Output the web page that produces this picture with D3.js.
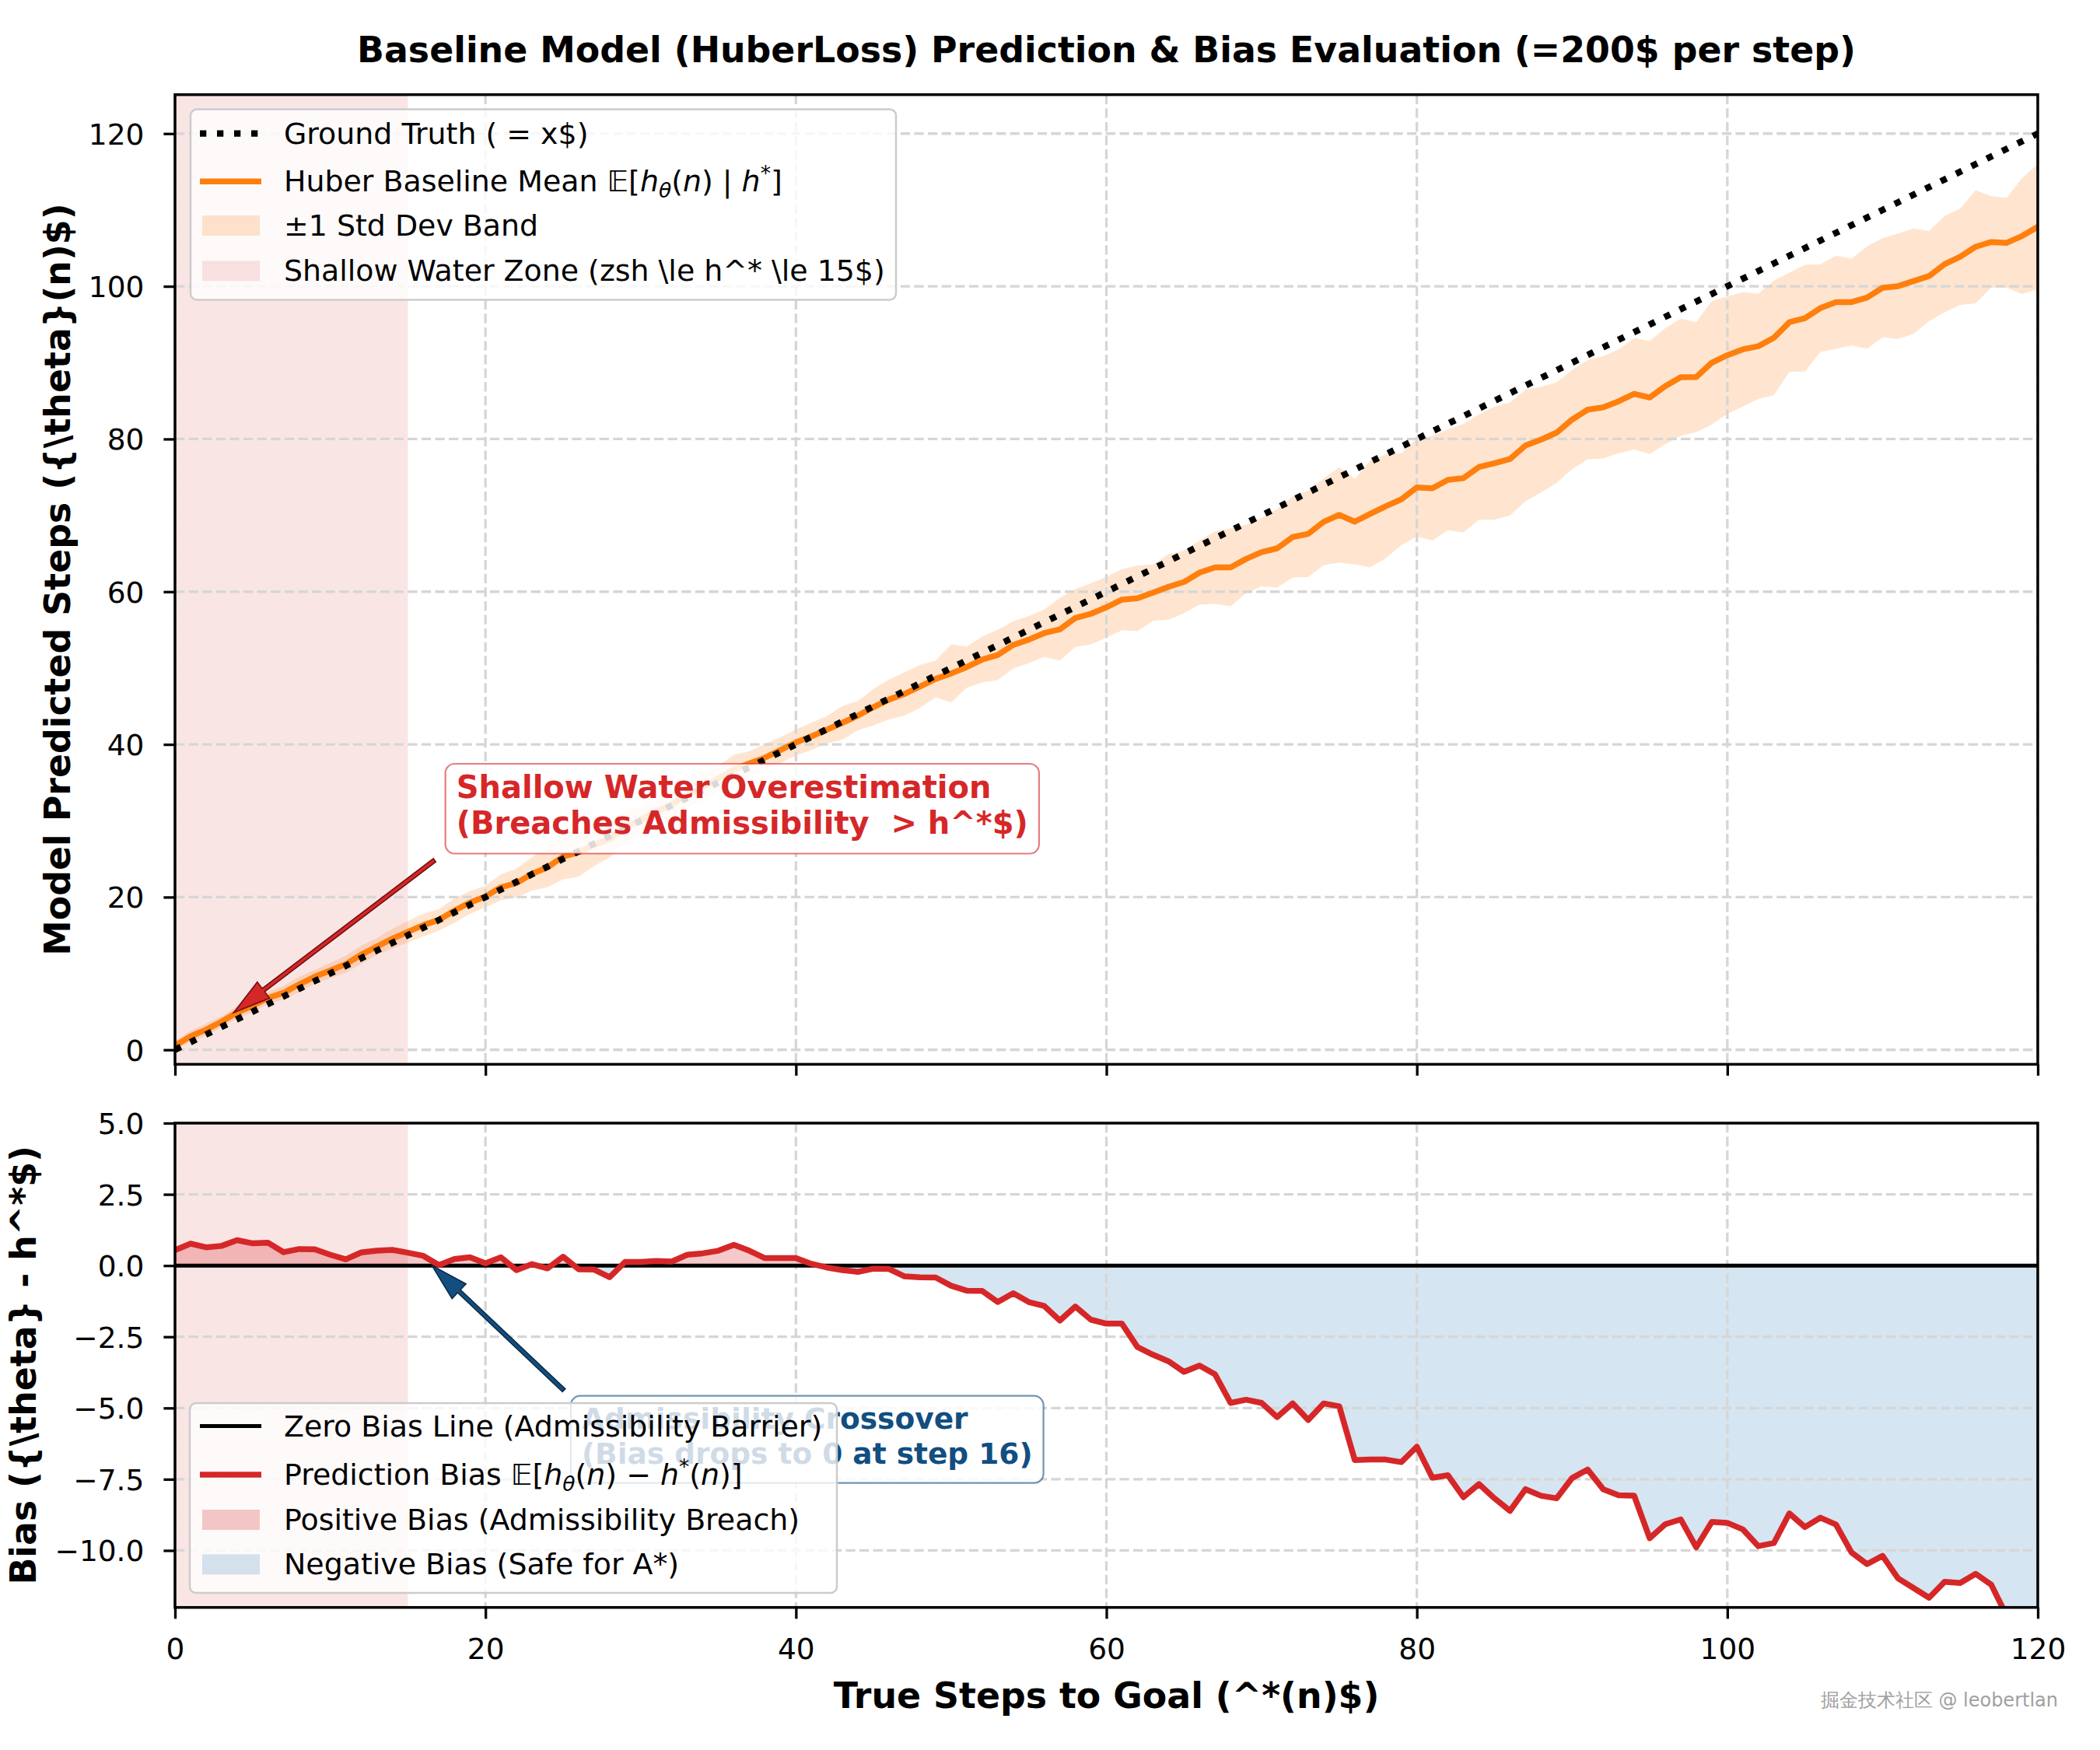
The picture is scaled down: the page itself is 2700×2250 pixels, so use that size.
<!DOCTYPE html>
<html>
<head>
<meta charset="utf-8">
<title>Baseline Model (HuberLoss) Prediction & Bias Evaluation</title>
<script src="https://cdn.jsdelivr.net/npm/d3@7"></script>
<style>
  body { margin: 0; background: #ffffff; }
  text { font-family: "DejaVu Sans", sans-serif; white-space: pre; }
</style>
</head>
<body>
<script>
// ---- data (x = true steps to goal 0..120) ----
var steps = d3.range(0, 121);

// prediction bias E[h_theta(n) - h*(n)] per step
var bias = [
  0.54, 0.77, 0.64, 0.69, 0.89, 0.78, 0.80, 0.47, 0.58, 0.57,
  0.38, 0.22, 0.46, 0.52, 0.55, 0.45, 0.34, 0.02, 0.23, 0.29,
  0.08, 0.29, -0.16, 0.05, -0.10, 0.31, -0.13, -0.14, -0.41, 0.13,
  0.13, 0.16, 0.14, 0.38, 0.43, 0.52, 0.73, 0.52, 0.26, 0.26,
  0.26, 0.06, -0.07, -0.16, -0.22, -0.11, -0.12, -0.38, -0.41, -0.42,
  -0.71, -0.88, -0.89, -1.28, -0.97, -1.28, -1.42, -1.93, -1.44, -1.90,
  -2.04, -2.04, -2.86, -3.13, -3.36, -3.73, -3.51, -3.82, -4.82, -4.71,
  -4.82, -5.32, -4.84, -5.42, -4.84, -4.94, -6.83, -6.81, -6.81, -6.90,
  -6.36, -7.45, -7.36, -8.13, -7.67, -8.17, -8.61, -7.85, -8.08, -8.17,
  -7.46, -7.16, -7.85, -8.06, -8.08, -9.57, -9.08, -8.91, -9.89, -9.00,
  -9.03, -9.26, -9.85, -9.74, -8.70, -9.18, -8.85, -9.09, -10.07, -10.48,
  -10.19, -10.98, -11.32, -11.66, -11.10, -11.14, -10.82, -11.20, -12.30, -12.40,
  -12.20
];

// +-1 std dev of the prediction per step
var stdDev = [
  0.6, 0.7, 0.8, 0.7, 0.8, 0.9, 0.8, 0.9, 1.0, 0.9,
  1.0, 1.1, 1.2, 1.1, 1.3, 1.4, 1.5, 1.4, 1.6, 1.5,
  1.4, 1.7, 1.9, 2.2, 2.6, 3.0, 3.2, 2.8, 2.4, 2.0,
  1.8, 1.7, 1.9, 1.6, 1.8, 1.7, 1.9, 1.6, 1.8, 1.7,
  1.7, 1.8, 1.8, 2.2, 1.9, 2.4, 2.6, 2.85, 2.8, 2.4,
  3.8, 2.7, 3.0, 3.3, 3.1, 3.1, 3.1, 4.1, 3.8, 4.0,
  4.0, 4.0, 4.3, 3.7, 4.3, 4.1, 4.2, 4.75, 5.1, 4.5,
  4.5, 5.15, 5.3, 5.66, 5.66, 6.25, 5.6, 7.0, 6.8, 6.0,
  6.37, 6.84, 6.6, 7.1, 6.9, 7.4, 7.4, 7.3, 6.9, 6.6,
  6.5, 6.5, 6.7, 6.8, 7.3, 7.4, 7.6, 7.7, 7.2, 8.1,
  7.7, 7.5, 6.9, 7.5, 6.5, 7.0, 5.75, 6.1, 5.7, 6.7,
  6.5, 6.9, 6.9, 5.9, 6.3, 6.3, 7.4, 6.0, 5.9, 7.6,
  8.2
];

// mean prediction = true steps + bias
var meanPred = steps.map(function(s, i) { return s + bias[i]; });

var xTicks = [0, 20, 40, 60, 80, 100, 120];
var yTopTicks = [0, 20, 40, 60, 80, 100, 120];
var yBotTicks = [-10, -7.5, -5, -2.5, 0, 2.5, 5];
var shallowZone = [0, 15];

var titleText = "Baseline Model (HuberLoss) Prediction & Bias Evaluation (=200$ per step)";
var yTopLabel = "Model Predicted Steps ({\\theta}(n)$)";
var yBotLabel = "Bias ({\\theta} - h^*$)";
var xLabel = "True Steps to Goal (^*(n)$)";

// legend labels: [text, style]  n = normal, i = italic, sub, sup
var topLegendLabels = [
  [["Ground Truth ( = x$)", "n"]],
  [["Huber Baseline Mean ", "n"], ["\uD835\uDD3C[", "n"], ["h", "i"], ["\u03B8", "sub"], ["(", "n"], ["n", "i"], [") | ", "n"], ["h", "i"], ["*", "sup"], ["]", "n"]],
  [["\u00B11 Std Dev Band", "n"]],
  [["Shallow Water Zone (zsh \\le h^* \\le 15$)", "n"]]
];
var botLegendLabels = [
  [["Zero Bias Line (Admissibility Barrier)", "n"]],
  [["Prediction Bias ", "n"], ["\uD835\uDD3C[", "n"], ["h", "i"], ["\u03B8", "sub"], ["(", "n"], ["n", "i"], [") \u2212 ", "n"], ["h", "i"], ["*", "sup"], ["(", "n"], ["n", "i"], [")]", "n"]],
  [["Positive Bias (Admissibility Breach)", "n"]],
  [["Negative Bias (Safe for A*)", "n"]]
];

var ann1Lines = ["Shallow Water Overestimation", "(Breaches Admissibility  > h^*$)"];
var ann2Lines = ["Admissibility Crossover", "(Bias drops to 0 at step 16)"];

// ---- colours ----
var ORANGE = "#ff7f0e", RED = "#d62728", NAVY = "#124e80";
var shallowFill = "rgba(214,39,40,0.12)";
var bandFill = "rgba(255,127,14,0.2)";
var posFill = "rgba(214,39,40,0.25)";
var negFill = "rgba(31,119,180,0.19)";
var gridColor = "#d6d6d6";

var W = 2700, H = 2250;
var TICK_FS = 37.5, LEG_FS = 37.9, LABEL_FS = 45.8;

var svg = d3.select("body").append("svg")
  .attr("width", W).attr("height", H)
  .attr("viewBox", "0 0 " + W + " " + H);

svg.append("rect").attr("width", W).attr("height", H).attr("fill", "#ffffff");

var x = d3.scaleLinear().domain([0, 120]).range([225, 2620]);
var yTop = d3.scaleLinear().domain([-1.9, 125.1]).range([1368.4, 121.7]);
var yBot = d3.scaleLinear().domain([-12, 5]).range([2066.7, 1444]);

var defs = svg.append("defs");
function clip(id, ys) {
  defs.append("clipPath").attr("id", id).append("rect")
    .attr("x", x.range()[0]).attr("y", ys.range()[1])
    .attr("width", x.range()[1] - x.range()[0])
    .attr("height", ys.range()[0] - ys.range()[1]);
}
clip("clipTop", yTop);
clip("clipBot", yBot);

// fill helper: inserts zero crossings so the area follows the line exactly
function signedArea(xs, ys, sign) {
  var pts = [];
  for (var i = 0; i < xs.length; i++) {
    if (i > 0 && (ys[i - 1] * ys[i] < 0)) {
      var t = ys[i - 1] / (ys[i - 1] - ys[i]);
      pts.push([xs[i - 1] + t * (xs[i] - xs[i - 1]), 0]);
    }
    pts.push([xs[i], ys[i]]);
  }
  return pts.map(function(p) {
    return [p[0], sign > 0 ? Math.max(p[1], 0) : Math.min(p[1], 0)];
  });
}

function grid(g, ys, yTicks) {
  g.selectAll(".vg").data(xTicks).enter().append("line")
    .attr("x1", function(d) { return x(d); }).attr("x2", function(d) { return x(d); })
    .attr("y1", ys.range()[1]).attr("y2", ys.range()[0])
    .attr("stroke", gridColor).attr("stroke-width", 3.3).attr("stroke-dasharray", "12.3 5.3");
  g.selectAll(".hg").data(yTicks).enter().append("line")
    .attr("x1", x.range()[0]).attr("x2", x.range()[1])
    .attr("y1", function(d) { return ys(d); }).attr("y2", function(d) { return ys(d); })
    .attr("stroke", gridColor).attr("stroke-width", 3.3).attr("stroke-dasharray", "12.3 5.3");
}

function styleAxis(g) {
  g.select(".domain").remove();
  g.selectAll(".tick line").attr("stroke", "#000").attr("stroke-width", 3.3);
  g.selectAll(".tick text").attr("font-family", "DejaVu Sans").attr("font-size", TICK_FS).attr("fill", "#000");
}

function spines(ys) {
  svg.append("rect")
    .attr("x", x.range()[0]).attr("y", ys.range()[1])
    .attr("width", x.range()[1] - x.range()[0])
    .attr("height", ys.range()[0] - ys.range()[1])
    .attr("fill", "none").attr("stroke", "#000").attr("stroke-width", 3.5);
}

// ================= TOP PANEL =================
var topG = svg.append("g").attr("clip-path", "url(#clipTop)");

topG.append("rect")
  .attr("x", x(shallowZone[0])).attr("y", yTop.range()[1])
  .attr("width", x(shallowZone[1]) - x(shallowZone[0]))
  .attr("height", yTop.range()[0] - yTop.range()[1])
  .attr("fill", shallowFill);

topG.append("path")
  .datum(steps)
  .attr("d", d3.area()
    .x(function(d) { return x(d); })
    .y0(function(d, i) { return yTop(meanPred[i] - stdDev[i]); })
    .y1(function(d, i) { return yTop(meanPred[i] + stdDev[i]); }))
  .attr("fill", bandFill);

grid(topG, yTop, yTopTicks);

topG.append("path")
  .datum(steps)
  .attr("d", d3.line().x(function(d) { return x(d); }).y(function(d, i) { return yTop(meanPred[i]); }))
  .attr("fill", "none").attr("stroke", ORANGE).attr("stroke-width", 7.5)
  .attr("stroke-linejoin", "round");

topG.append("path")
  .datum(steps)
  .attr("d", d3.line().x(function(d) { return x(d); }).y(function(d) { return yTop(d); }))
  .attr("fill", "none").attr("stroke", "#000").attr("stroke-width", 8.3)
  .attr("stroke-dasharray", "8.3 13.7");

var gxTop = svg.append("g").attr("transform", "translate(0," + yTop.range()[0] + ")")
  .call(d3.axisBottom(x).tickValues(xTicks).tickSize(14.6).tickFormat(""));
styleAxis(gxTop);
var gyTop = svg.append("g").attr("transform", "translate(" + x.range()[0] + ",0)")
  .call(d3.axisLeft(yTop).tickValues(yTopTicks).tickSize(14.6).tickPadding(25).tickFormat(d3.format("d")));
styleAxis(gyTop);
gyTop.selectAll(".tick text").attr("dy", "0.36em");
spines(yTop);

// ================= BOTTOM PANEL =================
var botG = svg.append("g").attr("clip-path", "url(#clipBot)");

botG.append("rect")
  .attr("x", x(shallowZone[0])).attr("y", yBot.range()[1])
  .attr("width", x(shallowZone[1]) - x(shallowZone[0]))
  .attr("height", yBot.range()[0] - yBot.range()[1])
  .attr("fill", shallowFill);

var areaGen = d3.area()
  .x(function(p) { return x(p[0]); })
  .y0(function() { return yBot(0); })
  .y1(function(p) { return yBot(p[1]); });

botG.append("path").attr("d", areaGen(signedArea(steps, bias, 1))).attr("fill", posFill);
botG.append("path").attr("d", areaGen(signedArea(steps, bias, -1))).attr("fill", negFill);

grid(botG, yBot, yBotTicks);

botG.append("line")
  .attr("x1", x.range()[0]).attr("x2", x.range()[1])
  .attr("y1", yBot(0)).attr("y2", yBot(0))
  .attr("stroke", "#000").attr("stroke-width", 5);

botG.append("path")
  .datum(steps)
  .attr("d", d3.line().x(function(d) { return x(d); }).y(function(d, i) { return yBot(bias[i]); }))
  .attr("fill", "none").attr("stroke", RED).attr("stroke-width", 7.5)
  .attr("stroke-linejoin", "round");

var gxBot = svg.append("g").attr("transform", "translate(0," + yBot.range()[0] + ")")
  .call(d3.axisBottom(x).tickValues(xTicks).tickSize(14.6).tickPadding(25.4).tickFormat(d3.format("d")));
styleAxis(gxBot);
var gyBot = svg.append("g").attr("transform", "translate(" + x.range()[0] + ",0)")
  .call(d3.axisLeft(yBot).tickValues(yBotTicks).tickSize(14.6).tickPadding(25).tickFormat(d3.format(".1f")));
styleAxis(gyBot);
gyBot.selectAll(".tick text").attr("dy", "0.36em");
spines(yBot);

// ================= TEXT =================
svg.append("text")
  .attr("x", (x.range()[0] + x.range()[1]) / 2).attr("y", 80)
  .attr("text-anchor", "middle").attr("font-weight", "bold").attr("font-size", LABEL_FS)
  .text(titleText);

svg.append("text")
  .attr("x", (x.range()[0] + x.range()[1]) / 2).attr("y", 2196)
  .attr("text-anchor", "middle").attr("font-weight", "bold").attr("font-size", LABEL_FS)
  .text(xLabel);

svg.append("text")
  .attr("transform", "translate(90," + (yTop.range()[0] + yTop.range()[1]) / 2 + ") rotate(-90)")
  .attr("text-anchor", "middle").attr("font-weight", "bold").attr("font-size", LABEL_FS)
  .text(yTopLabel);

svg.append("text")
  .attr("transform", "translate(46," + (yBot.range()[0] + yBot.range()[1]) / 2 + ") rotate(-90)")
  .attr("text-anchor", "middle").attr("font-weight", "bold").attr("font-size", LABEL_FS)
  .text(yBotLabel);

// ================= ANNOTATIONS =================
function arrow(x0, y0, x1, y1, fill, edge) {
  var dx = x1 - x0, dy = y1 - y0, L = Math.sqrt(dx * dx + dy * dy);
  var ux = dx / L, uy = dy / L, nx = -uy, ny = ux;
  var hl = 48, hw = 13, sw = 2.6;
  var bx = x1 - ux * hl, by = y1 - uy * hl;
  var pts = [
    [x0 + nx * sw, y0 + ny * sw], [bx + nx * sw, by + ny * sw], [bx + nx * hw, by + ny * hw],
    [x1, y1],
    [bx - nx * hw, by - ny * hw], [bx - nx * sw, by - ny * sw], [x0 - nx * sw, y0 - ny * sw]
  ];
  svg.append("path").attr("d", "M" + pts.join("L") + "Z")
    .attr("fill", fill).attr("stroke", edge).attr("stroke-width", 1.6).attr("stroke-linejoin", "miter");
}

function annotation(lines, tx, ty, fs, lead, color, edge) {
  var g = svg.append("g");
  var box = g.append("rect");
  var t = g.append("text").attr("font-weight", "bold").attr("font-size", fs).attr("fill", color);
  lines.forEach(function(l, i) {
    t.append("tspan").attr("x", tx).attr("y", ty + i * lead).text(l);
  });
  var bb = t.node().getBBox();
  box.attr("x", bb.x - 14).attr("y", bb.y - 7)
    .attr("width", bb.width + 28).attr("height", bb.height + 23)
    .attr("rx", 12).attr("fill", "#ffffff").attr("fill-opacity", 0.85)
    .attr("stroke", edge).attr("stroke-width", 2.2);
}

// shallow-water annotation (top panel)
annotation(ann1Lines, x(18.12), yTop(32.98), 40, 46.5, RED, "rgba(214,39,40,0.6)");
arrow(x(16.72), yTop(24.83), x(3.78), yTop(4.87), RED, "#6e1010");

// crossover annotation (bottom panel), drawn before the legend so the legend covers it
arrow(x(25.05), yBot(-4.38), x(16.55), yBot(0), NAVY, "#0a2a48");
annotation(ann2Lines, x(26.2), yBot(-5.72), 37.5, 45, NAVY, "rgba(18,78,128,0.6)");

// ================= LEGENDS =================
function mathLabel(sel, parts, fs) {
  var shift = 0;
  parts.forEach(function(p) {
    var target = p[1] === "sub" ? 0.2 * fs : (p[1] === "sup" ? -0.38 * fs : 0);
    var ts = sel.append("tspan").text(p[0]).attr("dy", target - shift);
    shift = target;
    if (p[1] === "i" || p[1] === "sub") ts.attr("font-style", "italic");
    if (p[1] === "sub" || p[1] === "sup") ts.attr("font-size", 0.7 * fs);
  });
}

function legend(box, rows, labels) {
  var g = svg.append("g");
  g.append("rect").attr("x", box[0]).attr("y", box[1])
    .attr("width", box[2] - box[0]).attr("height", box[3] - box[1])
    .attr("rx", 8).attr("fill", "#ffffff").attr("fill-opacity", 0.8)
    .attr("stroke", "#cccccc").attr("stroke-width", 2.5);
  rows.forEach(function(r, i) {
    if (r.type === "line") {
      var ln = g.append("line").attr("x1", 257).attr("x2", 336)
        .attr("y1", r.y).attr("y2", r.y)
        .attr("stroke", r.color).attr("stroke-width", r.width);
      if (r.dash) ln.attr("stroke-dasharray", r.dash);
    } else {
      g.append("rect").attr("x", 260).attr("y", r.y - 13).attr("width", 74).attr("height", 26)
        .attr("fill", r.color);
    }
    var t = g.append("text").attr("x", 365).attr("y", r.y + 13).attr("font-size", LEG_FS);
    mathLabel(t, labels[i], LEG_FS);
  });
}

legend([245, 140.5, 1152, 385.5], [
  { type: "line", y: 171.7, color: "#000", width: 8.3, dash: "8.3 13.7" },
  { type: "line", y: 233.3, color: ORANGE, width: 7.5 },
  { type: "patch", y: 290, color: bandFill },
  { type: "patch", y: 348.3, color: shallowFill }
], topLegendLabels);

legend([244, 1804, 1076, 2048], [
  { type: "line", y: 1833.6, color: "#000", width: 5 },
  { type: "line", y: 1896, color: RED, width: 7.5 },
  { type: "patch", y: 1954, color: posFill },
  { type: "patch", y: 2011.4, color: negFill }
], botLegendLabels);

// watermark
svg.append("text")
  .attr("x", 2646).attr("y", 2194)
  .attr("text-anchor", "end")
  .attr("font-family", "'Noto Sans CJK SC', sans-serif")
  .attr("font-size", 24).attr("fill", "#a0a0a0")
  .text("掘金技术社区 @ leobertlan");
</script>
</body>
</html>
